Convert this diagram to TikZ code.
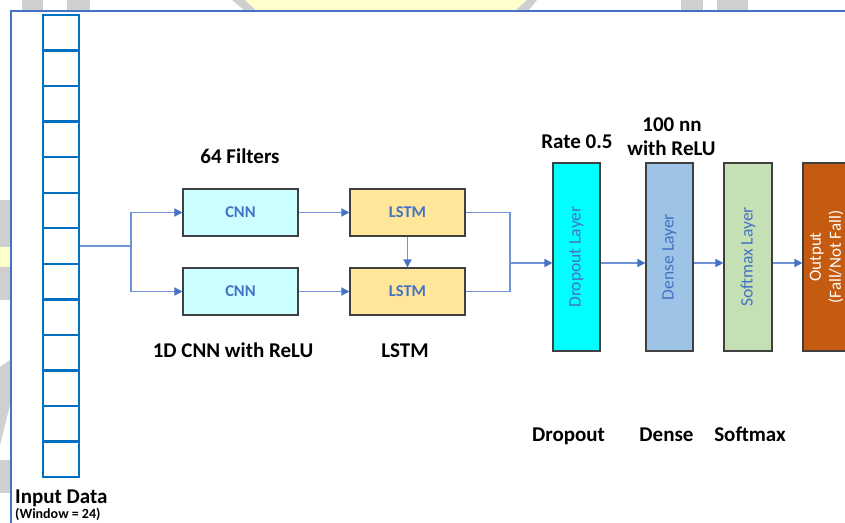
\documentclass[tikz,border=0pt]{standalone}
\usepackage{fontspec}
\setmainfont{Carlito}
\usetikzlibrary{arrows.meta}
\definecolor{frameblue}{HTML}{4472C4}
\definecolor{cellblue}{HTML}{0070C0}
\definecolor{linkblue}{HTML}{6F93D8}
\definecolor{boxedge}{HTML}{404040}
\definecolor{cnnfill}{HTML}{CCFFFF}
\definecolor{lstmfill}{HTML}{FFE699}
\definecolor{dropfill}{HTML}{00FFFF}
\definecolor{densefill}{HTML}{9DC3E6}
\definecolor{softfill}{HTML}{C5E0B4}
\definecolor{outfill}{HTML}{C55A11}
\definecolor{markgray}{HTML}{CFCFCF}
\definecolor{markyellow}{HTML}{FFFFCC}
\tikzset{
  blockbox/.style={draw=boxedge, line width=1.1pt, inner sep=0pt, minimum width=115pt, minimum height=47pt,
    text=frameblue, font=\fontsize{16.5}{19}\selectfont\bfseries},
  layerbox/.style={draw=boxedge, line width=1.1pt, inner sep=0pt, minimum width=47pt, minimum height=188pt},
  layertext/.style={rotate=90, text=frameblue, font=\fontsize{17.5}{20}\selectfont, inner sep=0pt},
  conn/.style={draw=linkblue, line width=1.4pt},
  arr/.style={conn, -{Triangle[length=8pt,width=8pt,fill=frameblue,color=frameblue]}},
  caption/.style={anchor=base, font=\fontsize{21}{24}\selectfont\bfseries, inner sep=0pt},
}
\begin{document}
\begin{tikzpicture}[x=1pt,y=-1pt]
\useasboundingbox (0,0) rectangle (845,522);
% faint backdrop marks outside the frame
\fill[markgray] (22,0) rectangle (43,10);
\fill[markgray] (67,0) rectangle (90,10);
\fill[markgray] (232,0) -- (245,0) -- (256,10) -- (244,10) -- cycle;
\fill[markyellow] (245,0) -- (527,0) -- (516,10) -- (256,10) -- cycle;
\fill[markgray] (527,0) -- (537,0) -- (529,10) -- (516,10) -- cycle;
\fill[markgray] (681,0) rectangle (703,10);
\fill[markgray] (717,0) rectangle (748,10);
\fill[markgray] (0,200) rectangle (10,247);
\fill[markyellow] (0,247) rectangle (10,267);
\fill[markgray] (0,267) rectangle (10,300);
\fill[markgray] (0,367) -- (10,360) -- (10,405) -- (0,445) -- cycle;
\fill[markgray] (0,460) rectangle (10,493);
% outer frame
\draw[frameblue, line width=1.5pt] (11,530) -- (11,11) -- (850,11);

% input window column
\node[draw=cellblue, line width=2.4pt, minimum width=36pt, minimum height=462pt, inner sep=0pt] (input) at (61,246) {};
\foreach \k in {1,...,12}
  \draw[cellblue, line width=2.4pt] (43,15+35.54*\k) -- (79,15+35.54*\k);
\node[anchor=base west, font=\fontsize{21}{24}\selectfont\bfseries, inner sep=0pt] (inlabel) at (15,503) {Input Data};
\node[anchor=base west, font=\fontsize{14}{16}\selectfont\bfseries, inner sep=0pt] (winlabel) at (15,518) {(Window = 24)};

% CNN and LSTM branches
\node[blockbox, fill=cnnfill] (cnn1) at (240.5,212.5) {CNN};
\node[blockbox, fill=cnnfill] (cnn2) at (240.5,291.5) {CNN};
\node[blockbox, fill=lstmfill] (lstm1) at (407.5,212.5) {LSTM};
\node[blockbox, fill=lstmfill] (lstm2) at (407.5,291.5) {LSTM};

% classifier layers
\node[layerbox, fill=dropfill] (drop) at (576.5,257) {};
\node[layertext] at (drop.center) {Dropout Layer};
\node[layerbox, fill=densefill] (dense) at (669.5,257) {};
\node[layertext] at (dense.center) {Dense Layer};
\node[layerbox, fill=softfill, minimum width=48pt] (soft) at (748,257) {};
\node[layertext] at (soft.center) {Softmax Layer};
\node[layerbox, fill=outfill] (out) at (826.5,257) {};
\node[rotate=90, text=white, align=center, font=\fontsize{17}{20}\selectfont, inner sep=0pt] at (out.center) {Output\\(Fall/Not Fall)};

% connectors
\coordinate (split) at (131,246);
\coordinate (merge) at (510,263);
\draw[conn] (input.east |- split) -- (split);
\draw[arr] (split) |- (cnn1.west);
\draw[arr] (split) |- (cnn2.west);
\draw[arr] (cnn1) -- (lstm1);
\draw[arr] (cnn2) -- (lstm2);
\draw[arr] (lstm1) -- (lstm2);
\draw[conn] (lstm1.east) -| (merge) |- (lstm2.east);
\draw[arr] (merge) -- (merge -| drop.west);
\draw[arr] (drop.east |- merge) -- (dense.west |- merge);
\draw[arr] (dense.east |- merge) -- (soft.west |- merge);
\draw[arr] (soft.east |- merge) -- (out.west |- merge);

% captions
\node[caption] (filters) at (240,163) {64 Filters};
\node[caption] (cnncap) at (233,357) {1D CNN with ReLU};
\node[caption] (lstmcap) at (405,357) {LSTM};
\node[caption] (rate) at (577,148) {Rate 0.5};
\node[caption] (nn1) at (672,131) {100 nn};
\node[caption] (nn2) at (671.5,155) {with ReLU};
\node[caption] (dropcap) at (568.5,441) {Dropout};
\node[caption] (densecap) at (666.5,441) {Dense};
\node[caption] (softcap) at (750,441) {Softmax};
\end{tikzpicture}
\end{document}
